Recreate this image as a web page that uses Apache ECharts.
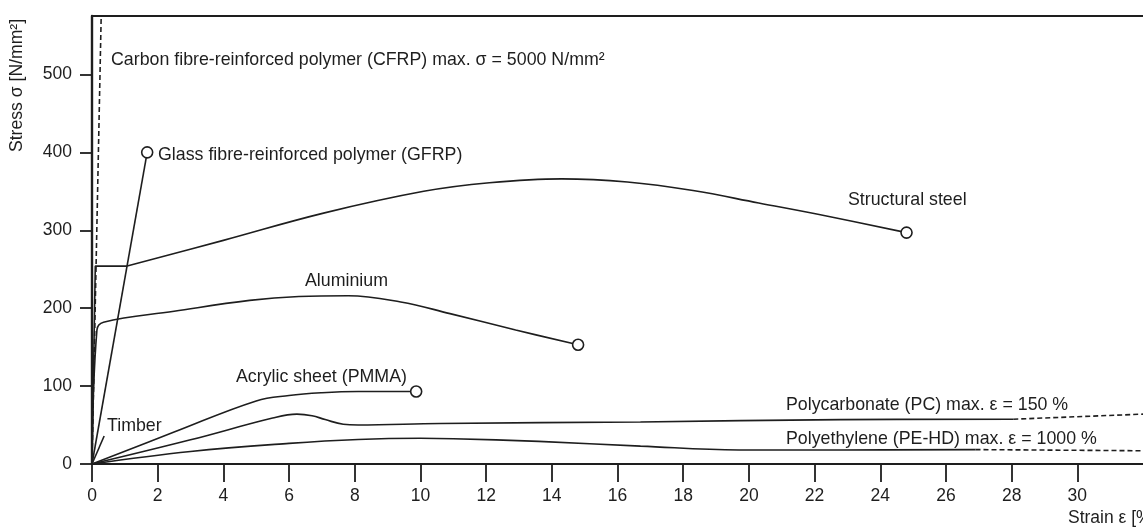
<!DOCTYPE html>
<html>
	<head>
		<meta charset="utf-8">
		<title>Stress-strain curves</title>
		<script src="https://cdn.jsdelivr.net/npm/echarts@6/dist/echarts.min.js"></script>
		<style>
			html, body { margin: 0; padding: 0; background: #fff; }
			#chart { width: 1143px; height: 527px; }
		</style>
	</head>
	<body>
		<div id="chart"></div>
		<script>
			// tick labels
			var xTicks = [0, 2, 4, 6, 8, 10, 12, 14, 16, 18, 20, 22, 24, 26, 28, 30];
			var yTicks = [0, 100, 200, 300, 400, 500];

			// strain [%] / stress [N/mm2]
			var cfrpX = [0, 0.28];
			var cfrpY = [0, 575];
			var steelX = [0, 0.1, 1.07, 4.0, 7.05, 10.1, 12.1, 14.3, 16.3, 18.3, 20.3, 22.4, 24.8];
			var steelY = [0, 254, 254, 287, 322, 350, 361, 366, 362, 351, 335, 318, 297];
			var aluX = [0, 0.15, 0.35, 2.5, 4.8, 6.3, 7.8, 9.4, 10.9, 12.9, 14.8];
			var aluY = [0, 172, 182, 196, 210, 215, 216, 208, 193, 172, 153];
			var gfrpX = [0, 1.68];
			var gfrpY = [0, 400];
			var timberX = [0, 0.37];
			var timberY = [0, 36];
			var pmmaX = [0, 2.5, 5.0, 6.0, 7.0, 8.1, 9.87];
			var pmmaY = [0, 41, 81, 88, 91.5, 93, 93];
			var pcX = [0, 3, 5.5, 6.24, 6.7, 7.1, 7.65, 8.1, 10.6, 16.7, 22.8, 28.05];
			var pcY = [0, 31, 59, 64, 62, 57, 51, 50, 52, 54, 57, 57.5];
			var pcDashX = [28.05, 32];
			var pcDashY = [57.5, 64];
			var peX = [0, 3, 6.0, 8.1, 10.0, 11.0, 13.6, 16.7, 19.7, 22.8, 26.9];
			var peY = [0, 16, 26.5, 31.5, 33, 32.5, 29, 23, 18, 18, 18.5];
			var peDashX = [26.9, 32];
			var peDashY = [18.5, 17];

			var ink = '#1e1e1e';
			var font = '"Liberation Sans", Arial, sans-serif';

			function pairs(xs, ys, endCircle) {
				var out = [];
				for (var i = 0; i < xs.length; i++) {
					if (endCircle && i == xs.length - 1) {
						out.push({
							value: [xs[i], ys[i]],
							symbol: 'circle',
							symbolSize: 11,
							itemStyle: { color: '#fff', borderColor: ink, borderWidth: 1.6 }
						});
					} else {
						out.push({ value: [xs[i], ys[i]], symbol: 'none' });
					}
				}
				return out;
			}

			function curve(xs, ys, opts) {
				opts = opts || {};
				return {
					type: 'line',
					xAxisIndex: 0,
					yAxisIndex: 0,
					symbol: 'none',
					smooth: opts.smooth || false,
					lineStyle: { color: ink, width: 1.6, type: opts.dashed ? [5, 3] : 'solid' },
					data: pairs(xs, ys, opts.circle),
					silent: true,
					z: 3
				};
			}

			function label(text, x, y) {
				return {
					type: 'text',
					x: x,
					y: y,
					style: {
						text: text,
						fill: ink,
						font: '17.8px ' + font,
						textAlign: 'left',
						textVerticalAlign: 'middle'
					}
				};
			}

			var chart = echarts.init(document.getElementById('chart'));
			chart.setOption({
				animation: false,
				backgroundColor: '#fff',
				grid: { left: 92, right: 0, top: 16, bottom: 63 },
				xAxis: [{
					type: 'value',
					min: 0,
					max: 32,
					interval: 2,
					axisLine: { show: true, lineStyle: { color: ink, width: 2 } },
					axisTick: { show: true, inside: false, length: 18, customValues: xTicks, lineStyle: { color: ink, width: 1.8 } },
					axisLabel: { customValues: xTicks, fontSize: 17.5, fontFamily: font, color: ink, margin: 23 },
					splitLine: { show: false }
				}, {
					type: 'value',
					position: 'top',
					min: 0,
					max: 32,
					axisLine: { show: true, lineStyle: { color: ink, width: 2 } },
					axisTick: { show: false },
					axisLabel: { show: false },
					splitLine: { show: false }
				}],
				yAxis: {
					type: 'value',
					min: 0,
					max: 575,
					interval: 100,
					axisLine: { show: true, lineStyle: { color: ink, width: 2.4 } },
					axisTick: { show: true, inside: false, length: 12, customValues: yTicks, lineStyle: { color: ink, width: 1.8 } },
					axisLabel: { customValues: yTicks, fontSize: 17.5, fontFamily: font, color: ink, margin: 20 },
					splitLine: { show: false }
				},
				graphic: [
					{
						type: 'text',
						x: 17,
						y: 152,
						rotation: Math.PI / 2,
						style: {
							text: 'Stress σ [N/mm²]',
							fill: ink,
							font: '17.6px ' + font,
							textAlign: 'left',
							textVerticalAlign: 'middle'
						}
					},
					{
						type: 'text',
						x: 1068,
						y: 518,
						style: {
							text: 'Strain ε [%]',
							fill: ink,
							font: '17.5px ' + font,
							textAlign: 'left',
							textVerticalAlign: 'middle'
						}
					},
					label('Carbon fibre-reinforced polymer (CFRP) max. σ = 5000 N/mm²', 111, 60),
					label('Glass fibre-reinforced polymer (GFRP)', 158, 155),
					label('Structural steel', 848, 200),
					label('Aluminium', 305, 281),
					label('Acrylic sheet (PMMA)', 236, 377),
					label('Timber', 107, 426),
					label('Polycarbonate (PC) max. ε = 150 %', 786, 405),
					label('Polyethylene (PE-HD) max. ε = 1000 %', 786, 439)
				],
				series: [
					curve(cfrpX, cfrpY, { dashed: true }),
					// steel: sharp yield plateau, then the smooth hardening curve
					curve(steelX.slice(0, 3), steelY.slice(0, 3)),
					curve(steelX.slice(2), steelY.slice(2), { smooth: 0.4, circle: true }),
					curve(aluX, aluY, { smooth: 0.4, circle: true }),
					curve(gfrpX, gfrpY, { circle: true }),
					curve(timberX, timberY),
					curve(pmmaX, pmmaY, { smooth: 0.4, circle: true }),
					curve(pcX, pcY, { smooth: 0.4 }),
					curve(pcDashX, pcDashY, { dashed: true }),
					curve(peX, peY, { smooth: 0.4 }),
					curve(peDashX, peDashY, { dashed: true })
				]
			});
		</script>
	</body>
</html>
